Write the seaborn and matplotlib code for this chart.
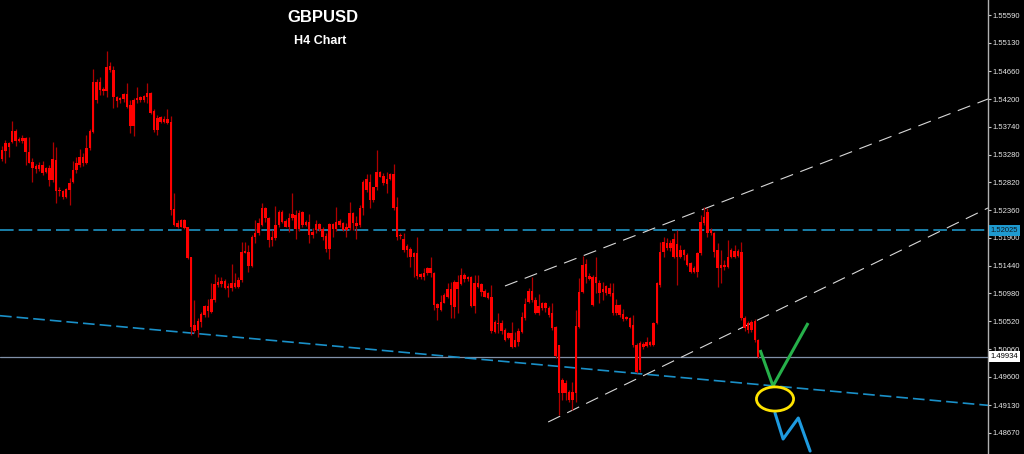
"""GBPUSD H4 candlestick chart with channel, support and projection sketch."""

import matplotlib

matplotlib.use("Agg")
import matplotlib.pyplot as plt
import numpy as np
import seaborn as sns
from matplotlib.patches import Ellipse
from matplotlib.transforms import blended_transform_factory

# candle prices
OPEN = [
    1.53207, 1.53340, 1.53472, 1.53489, 1.53671, 1.53505, 1.53555, 1.53555, 1.53323, 1.53157,
    1.53091, 1.53041, 1.53108, 1.52992, 1.53058, 1.52859, 1.53190, 1.52694, 1.52677, 1.52578,
    1.52694, 1.52826, 1.53025, 1.53108, 1.53240, 1.53141, 1.53389, 1.53654, 1.54482, 1.54350,
    1.54366, 1.54333, 1.54681, 1.54681, 1.54234, 1.54184, 1.54201, 1.54283, 1.54101, 1.53754,
    1.54184, 1.54234, 1.54184, 1.54234, 1.54300, 1.54002, 1.53687, 1.53903, 1.53820, 1.53869,
    1.53820, 1.52379, 1.52147, 1.52081, 1.52197, 1.52081, 1.51584, 1.50458, 1.50375, 1.50508,
    1.50624, 1.50773, 1.50673, 1.50872, 1.51121, 1.51137, 1.51187, 1.51071, 1.51071, 1.51154,
    1.51087, 1.51203, 1.51651, 1.51667, 1.51435, 1.51915, 1.51982, 1.52114, 1.52396, 1.52230,
    1.51866, 1.51899, 1.52114, 1.52329, 1.52180, 1.52081, 1.52230, 1.52280, 1.52048, 1.52329,
    1.52114, 1.52164, 1.51949, 1.52031, 1.52131, 1.52048, 1.51932, 1.51717, 1.52131, 1.52048,
    1.52114, 1.52147, 1.52031, 1.52064, 1.52313, 1.52147, 1.52114, 1.52396, 1.52876, 1.52826,
    1.52528, 1.52743, 1.52992, 1.52926, 1.52793, 1.52876, 1.52959, 1.52412, 1.51932, 1.51882,
    1.51700, 1.51717, 1.51584, 1.51651, 1.51303, 1.51253, 1.51319, 1.51402, 1.51319, 1.50806,
    1.50706, 1.50823, 1.50922, 1.51054, 1.50756, 1.51170, 1.51137, 1.51286, 1.51220, 1.51253,
    1.50773, 1.51154, 1.51137, 1.51021, 1.50988, 1.50922, 1.50342, 1.50491, 1.50491, 1.50375,
    1.50243, 1.50326, 1.50094, 1.50176, 1.50342, 1.50574, 1.50839, 1.51021, 1.50872, 1.50657,
    1.50740, 1.50823, 1.50740, 1.50657, 1.50425, 1.50127, 1.49332, 1.49497, 1.49349, 1.49216,
    1.49332, 1.50425, 1.51005, 1.51468, 1.51270, 1.51253, 1.51154, 1.51154, 1.51005, 1.50988,
    1.51071, 1.50988, 1.50657, 1.50789, 1.50640, 1.50557, 1.50574, 1.50458, 1.50127, 1.49713,
    1.50143, 1.50110, 1.50176, 1.50127, 1.50491, 1.51121, 1.51667, 1.51816, 1.51733, 1.51882,
    1.51584, 1.51700, 1.51617, 1.51617, 1.51485, 1.51336, 1.51336, 1.51651, 1.52147, 1.52329,
    1.51982, 1.51982, 1.51700, 1.51402, 1.51452, 1.51419, 1.51584, 1.51684, 1.51601, 1.51667,
    1.50574, 1.50375, 1.50508, 1.50524, 1.50210,
]
HIGH = [
    1.53422, 1.53522, 1.53489, 1.53836, 1.53704, 1.53571, 1.53605, 1.53571, 1.53571, 1.53224,
    1.53124, 1.53157, 1.53174, 1.53075, 1.53108, 1.53489, 1.53406, 1.52743, 1.52694, 1.52727,
    1.52892, 1.53174, 1.53240, 1.53373, 1.53307, 1.53605, 1.53704, 1.54697, 1.54532, 1.54565,
    1.54399, 1.54995, 1.54813, 1.54747, 1.54250, 1.54234, 1.54300, 1.54466, 1.54184, 1.54217,
    1.54399, 1.54250, 1.54267, 1.54466, 1.54316, 1.54035, 1.53936, 1.53919, 1.53919, 1.54035,
    1.53919, 1.52644, 1.52197, 1.52213, 1.52213, 1.52081, 1.51584, 1.50872, 1.50574, 1.50673,
    1.50789, 1.50889, 1.51154, 1.51303, 1.51253, 1.51253, 1.51220, 1.51154, 1.51468, 1.51319,
    1.51253, 1.51833, 1.51833, 1.51783, 1.51949, 1.52197, 1.52230, 1.52479, 1.52412, 1.52247,
    1.52031, 1.52429, 1.52362, 1.52362, 1.52213, 1.52313, 1.52644, 1.52362, 1.52362, 1.52346,
    1.52197, 1.52296, 1.52064, 1.52197, 1.52147, 1.52081, 1.51982, 1.52147, 1.52147, 1.52412,
    1.52213, 1.52164, 1.52147, 1.52495, 1.52329, 1.52263, 1.52445, 1.52859, 1.52959, 1.52959,
    1.52743, 1.53356, 1.53008, 1.52975, 1.52992, 1.52975, 1.53124, 1.52578, 1.51982, 1.51982,
    1.51800, 1.51750, 1.51667, 1.51915, 1.51319, 1.51402, 1.51419, 1.51584, 1.51336, 1.50823,
    1.50955, 1.50988, 1.51154, 1.51170, 1.51203, 1.51286, 1.51402, 1.51319, 1.51270, 1.51270,
    1.51286, 1.51286, 1.51154, 1.51054, 1.51005, 1.51121, 1.50541, 1.50657, 1.50541, 1.50408,
    1.50342, 1.50508, 1.50342, 1.50408, 1.50673, 1.50905, 1.51071, 1.51253, 1.50922, 1.50972,
    1.50839, 1.50839, 1.50773, 1.50823, 1.50441, 1.50127, 1.49580, 1.49547, 1.49382, 1.49514,
    1.50706, 1.51236, 1.51601, 1.51551, 1.51319, 1.51286, 1.51584, 1.51203, 1.51170, 1.51121,
    1.51154, 1.51154, 1.50889, 1.50806, 1.50723, 1.50607, 1.50591, 1.50624, 1.50160, 1.50193,
    1.50176, 1.50259, 1.50193, 1.50508, 1.51170, 1.51833, 1.51915, 1.51899, 1.51866, 1.51982,
    1.52031, 1.51783, 1.51717, 1.51651, 1.51501, 1.51435, 1.51667, 1.52280, 1.52412, 1.52396,
    1.52064, 1.51998, 1.51816, 1.51700, 1.51534, 1.51866, 1.51733, 1.51783, 1.51717, 1.51833,
    1.50607, 1.50524, 1.50541, 1.50557, 1.50226,
]
LOW = [
    1.53174, 1.53141, 1.53240, 1.53472, 1.53422, 1.53489, 1.53472, 1.53108, 1.53141, 1.52826,
    1.52975, 1.53008, 1.52942, 1.52975, 1.52760, 1.52826, 1.52479, 1.52594, 1.52545, 1.52561,
    1.52445, 1.52810, 1.52975, 1.53075, 1.53091, 1.53124, 1.53356, 1.53638, 1.54134, 1.54267,
    1.54267, 1.54234, 1.54648, 1.54052, 1.54068, 1.54134, 1.54151, 1.54052, 1.53638, 1.53588,
    1.54134, 1.54151, 1.54151, 1.54134, 1.53952, 1.53654, 1.53605, 1.53803, 1.53803, 1.53787,
    1.52280, 1.52098, 1.52064, 1.52081, 1.52048, 1.51551, 1.50292, 1.50326, 1.50259, 1.50425,
    1.50591, 1.50591, 1.50657, 1.50839, 1.51087, 1.51087, 1.51054, 1.50922, 1.51021, 1.51071,
    1.51071, 1.51170, 1.51651, 1.51336, 1.51419, 1.51816, 1.51949, 1.52098, 1.52164, 1.51750,
    1.51766, 1.51866, 1.52081, 1.52147, 1.52081, 1.51998, 1.52197, 1.51882, 1.52015, 1.52081,
    1.52098, 1.51816, 1.51899, 1.51982, 1.52015, 1.51866, 1.51667, 1.51551, 1.51915, 1.52015,
    1.52081, 1.52015, 1.51915, 1.52031, 1.52031, 1.51882, 1.52081, 1.52280, 1.52661, 1.52396,
    1.52495, 1.52694, 1.52909, 1.52777, 1.52644, 1.52859, 1.52362, 1.51866, 1.51882, 1.51667,
    1.51584, 1.51419, 1.51253, 1.51220, 1.51220, 1.51203, 1.51286, 1.51253, 1.50706, 1.50541,
    1.50690, 1.50823, 1.50905, 1.50574, 1.50574, 1.50657, 1.51121, 1.51170, 1.51187, 1.50756,
    1.50657, 1.51071, 1.50938, 1.50922, 1.50889, 1.50326, 1.50326, 1.50326, 1.50309, 1.50193,
    1.50226, 1.50077, 1.50094, 1.50110, 1.50326, 1.50541, 1.50823, 1.50839, 1.50640, 1.50624,
    1.50706, 1.50673, 1.50591, 1.50375, 1.49912, 1.48968, 1.49216, 1.49216, 1.49183, 1.49050,
    1.49183, 1.50408, 1.50988, 1.51154, 1.51203, 1.50773, 1.50988, 1.50823, 1.50872, 1.50955,
    1.50938, 1.50624, 1.50624, 1.50591, 1.50524, 1.50541, 1.50408, 1.50094, 1.49663, 1.49680,
    1.50061, 1.50094, 1.50110, 1.50110, 1.50475, 1.51087, 1.51584, 1.51700, 1.51684, 1.51568,
    1.51121, 1.51568, 1.51534, 1.51435, 1.51319, 1.51319, 1.51253, 1.51617, 1.52114, 1.51915,
    1.51949, 1.51584, 1.51087, 1.51154, 1.51369, 1.51402, 1.51568, 1.51568, 1.51584, 1.50541,
    1.50359, 1.50326, 1.50342, 1.50176, 1.49912,
]
CLOSE = [
    1.53356, 1.53472, 1.53406, 1.53671, 1.53505, 1.53538, 1.53505, 1.53323, 1.53141, 1.53058,
    1.53041, 1.53108, 1.52975, 1.53058, 1.52859, 1.53207, 1.52677, 1.52677, 1.52578, 1.52710,
    1.52810, 1.53025, 1.53141, 1.53240, 1.53141, 1.53389, 1.53671, 1.54482, 1.54184, 1.54482,
    1.54333, 1.54730, 1.54747, 1.54234, 1.54167, 1.54217, 1.54283, 1.54068, 1.53754, 1.54184,
    1.54217, 1.54184, 1.54250, 1.54300, 1.53969, 1.53687, 1.53886, 1.53820, 1.53869, 1.53803,
    1.52362, 1.52114, 1.52081, 1.52197, 1.52064, 1.51568, 1.50425, 1.50359, 1.50524, 1.50640,
    1.50773, 1.50690, 1.50889, 1.51137, 1.51170, 1.51187, 1.51071, 1.51104, 1.51154, 1.51087,
    1.51203, 1.51667, 1.51684, 1.51435, 1.51915, 1.51982, 1.52147, 1.52396, 1.52230, 1.51866,
    1.51915, 1.52114, 1.52329, 1.52164, 1.52081, 1.52230, 1.52296, 1.52048, 1.52313, 1.52114,
    1.52164, 1.51949, 1.51998, 1.52131, 1.52048, 1.51915, 1.51717, 1.52131, 1.52048, 1.52164,
    1.52180, 1.52031, 1.52081, 1.52313, 1.52147, 1.52098, 1.52396, 1.52826, 1.52694, 1.52528,
    1.52743, 1.52992, 1.52909, 1.52810, 1.52876, 1.52959, 1.52396, 1.51915, 1.51949, 1.51700,
    1.51766, 1.51584, 1.51651, 1.51270, 1.51253, 1.51319, 1.51402, 1.51319, 1.50789, 1.50740,
    1.50839, 1.50955, 1.51054, 1.50789, 1.51170, 1.51054, 1.51286, 1.51220, 1.51253, 1.50773,
    1.51154, 1.51087, 1.51005, 1.50922, 1.50905, 1.50359, 1.50508, 1.50475, 1.50359, 1.50210,
    1.50326, 1.50094, 1.50210, 1.50359, 1.50591, 1.50806, 1.51021, 1.50872, 1.50657, 1.50773,
    1.50823, 1.50740, 1.50624, 1.50408, 1.49945, 1.49332, 1.49547, 1.49332, 1.49216, 1.49349,
    1.50441, 1.51005, 1.51452, 1.51253, 1.51220, 1.50789, 1.51253, 1.50988, 1.51054, 1.51104,
    1.50972, 1.50657, 1.50789, 1.50624, 1.50557, 1.50591, 1.50425, 1.50127, 1.49680, 1.50160,
    1.50094, 1.50176, 1.50127, 1.50491, 1.51154, 1.51667, 1.51833, 1.51733, 1.51816, 1.51584,
    1.51800, 1.51584, 1.51700, 1.51452, 1.51336, 1.51402, 1.51651, 1.52164, 1.52247, 1.51982,
    1.52031, 1.51667, 1.51402, 1.51452, 1.51419, 1.51584, 1.51700, 1.51584, 1.51684, 1.50574,
    1.50408, 1.50491, 1.50375, 1.50210, 1.49928,
]

# price axis labels
Y_TICKS = [1.55590, 1.55130, 1.54660, 1.54200, 1.53740, 1.53280, 1.52820, 1.52360,
           1.51900, 1.51440, 1.50980, 1.50520, 1.50060, 1.49600, 1.49130, 1.48670]
RESISTANCE = 1.52025
BID = 1.49934

# drawn objects (bar index, price)
TREND_X, TREND_Y = [-0.6, 292.1], [1.50612, 1.49128]
UPPER_X, UPPER_Y = [149.0, 292.1], [1.51104, 1.54201]
LOWER_X, LOWER_Y = [161.8, 292.1], [1.48852, 1.52396]
GREEN_X, GREEN_Y = [224.6, 228.4, 238.8], [1.50044, 1.49448, 1.50491]
BLUE_X, BLUE_Y = [229.0, 231.4, 235.9, 239.4], [1.49001, 1.48570, 1.48918, 1.48371]
TARGET_X, TARGET_Y = 229.0, 1.49233

assert len(OPEN) == len(HIGH) == len(LOW) == len(CLOSE)

sns.set_theme(style="dark", rc={"axes.facecolor": "black", "figure.facecolor": "black"})
plt.rcParams["font.family"] = ["Liberation Sans", "DejaVu Sans"]

fig = plt.figure(figsize=(10.24, 4.54), dpi=100)
ax = fig.add_axes([0, 0, 988 / 1024, 1])
ax.set_facecolor("black")

idx = np.arange(len(CLOSE))
o, h, l, c = (np.asarray(a) for a in (OPEN, HIGH, LOW, CLOSE))

# candles: dark wicks, bright bodies
ax.vlines(idx, l, h, color="#b00000", lw=0.9, zorder=2)
body_lo = np.minimum(o, c)
body_h = np.maximum(np.abs(c - o), 0.00007)
ax.bar(idx, body_h, bottom=body_lo, width=0.74, color="#ff0000", lw=0, zorder=3)

# horizontal levels
ax.axhline(RESISTANCE, color="#1a7fa8", lw=1.4, dashes=(7, 2.6), zorder=1)
ax.axhline(BID, color="#8090a8", lw=0.9, zorder=1)

# trend line and channel
ax.plot(TREND_X, TREND_Y, color="#1a90c8", lw=1.2, dashes=(7, 3), zorder=1)
ax.plot(UPPER_X, UPPER_Y, color="#d8d8d8", lw=0.8, dashes=(12, 7), zorder=1)
ax.plot(LOWER_X, LOWER_Y, color="#d8d8d8", lw=0.8, dashes=(12, 7), zorder=1)

# projection sketch
ax.plot(GREEN_X, GREEN_Y, color="#26b04a", lw=2.2, zorder=4, solid_capstyle="butt")
ax.plot(BLUE_X, BLUE_Y, color="#1e9be0", lw=2.2, zorder=4)
ax.add_patch(Ellipse((TARGET_X, TARGET_Y), width=11.0, height=0.0040,
                     fill=False, edgecolor="#ffe400", lw=2.0, zorder=5))

ax.set_xlim(-0.6, 292.1)
ax.set_ylim(1.48322, 1.55840)
ax.set_xticks([])

ax.yaxis.tick_right()
ax.set_yticks(Y_TICKS)
ax.set_yticklabels([f"{v:.5f}" for v in Y_TICKS])
ax.tick_params(axis="y", colors="#c8c8c8", labelcolor="#e8e8e8", labelsize=5.5,
               length=2.5, width=0.8, pad=1.0, direction="out")
for side in ("top", "left", "bottom"):
    ax.spines[side].set_visible(False)
ax.spines["right"].set_color("#b0b0b0")
ax.spines["right"].set_linewidth(1.0)
ax.grid(False)

# price tags on the axis
trans = blended_transform_factory(ax.transAxes, ax.transData)
ax.text(1.003, RESISTANCE, f"{RESISTANCE:.5f}", transform=trans, fontsize=5.5, color="#101820",
        va="center", ha="left", clip_on=False, zorder=6,
        bbox=dict(boxstyle="square,pad=0.25", fc="#1e9ad0", ec="none"))
ax.text(1.003, BID, f"{BID:.5f}", transform=trans, fontsize=5.5, color="black",
        va="center", ha="left", clip_on=False, zorder=6,
        bbox=dict(boxstyle="square,pad=0.25", fc="white", ec="none"))

fig.text(323 / 1024, 1 - 18 / 454, "GBPUSD", ha="center", va="center",
         color="white", fontsize=12, fontweight="bold")
fig.text(320 / 1024, 1 - 41 / 454, "H4 Chart", ha="center", va="center",
         color="white", fontsize=9, fontweight="bold")

fig.savefig("out.png", dpi=100, facecolor="black")
